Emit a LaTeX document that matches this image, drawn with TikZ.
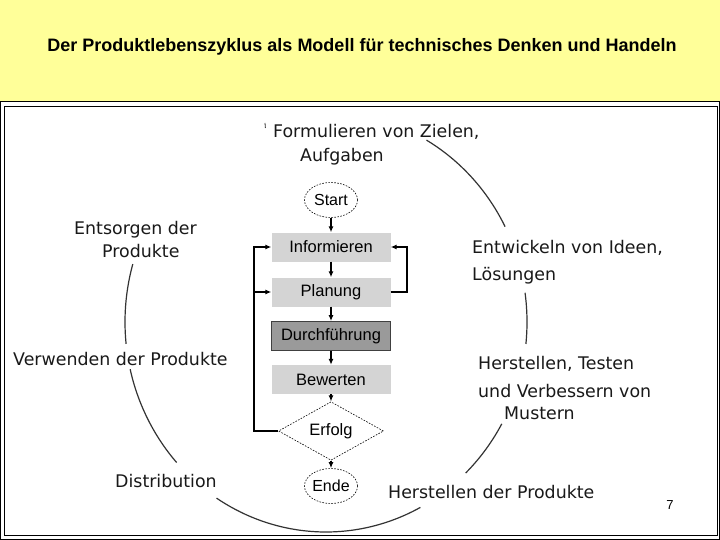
\documentclass[tikz,border=0pt]{standalone}
\usepackage{fontspec}
\setmainfont{Liberation Sans}
\newfontfamily\vfont{DejaVu Sans}
\usetikzlibrary{shapes.geometric,arrows.meta}
\definecolor{hdr}{HTML}{FFFF99}
\definecolor{boxlight}{HTML}{D4D4D4}
\definecolor{boxdark}{HTML}{9A9A9A}
\definecolor{arcgray}{HTML}{333333}
\begin{document}
\begin{tikzpicture}[x=1pt,y=-1pt,
  flowbox/.style={rectangle, minimum width=119pt, minimum height=29pt, inner sep=0pt, font=\fontsize{16.5}{19}\selectfont},
  lightbox/.style={flowbox, fill=boxlight},
  darkbox/.style={flowbox, fill=boxdark, draw=black!75, line width=0.8pt},
  term/.style={ellipse, draw, dash pattern=on 1.6pt off 1.4pt, line width=0.6pt, minimum width=53pt, minimum height=35pt, inner sep=0pt, font=\fontsize{16}{18}\selectfont},
  decision/.style={diamond, draw, dash pattern=on 1.6pt off 1.4pt, line width=0.6pt, minimum width=105pt, minimum height=42pt, inner sep=0pt, font=\fontsize{16.5}{19}\selectfont},
  arr/.style={line width=1.3pt, -{Latex[length=6pt,width=5pt]}},
  cyc/.style={font=\vfont\fontsize{17.4}{20}\selectfont, anchor=base west, inner sep=0pt, text=black!90},
  arcline/.style={draw=arcgray, line width=1.2pt},
]
\useasboundingbox (0,0) rectangle (720,540);
\fill[hdr] (0,0) rectangle (720,540);
\draw[fill=white, line width=0.8pt] (0.6,101.5) rectangle (719.4,539.4);
\draw[line width=0.8pt] (4,106) rectangle (717,535);

\node[font=\bfseries\fontsize{18}{21}\selectfont, inner sep=0pt] (title) at (362,47) {Der Produktlebenszyklus als Modell für technisches Denken und Handeln};

% flowchart
\node[term] (start) at (331,200) {Start};
\node[lightbox] (inf) at (331,247) {Informieren};
\node[lightbox] (plan) at (331,292) {Planung};
\node[darkbox] (durch) at (331,336) {Durchführung};
\node[lightbox] (bew) at (331,379.5) {Bewerten};
\node[decision] (erf) at (331,431) {Erfolg};
\node[term] (ende) at (331,486) {Ende};

\draw[arr] (start) -- (inf);
\draw[arr] (inf) -- (plan);
\draw[arr] (plan) -- (durch);
\draw[arr] (durch) -- (bew);
\draw[arr] (bew) -- (erf);
\draw[arr] (erf) -- (ende);

\coordinate (lx) at (254,0);
\coordinate (rx) at (407,0);
\draw[arr] (erf.west) -- (erf.west -| lx) -- (lx |- inf.west) -- (inf.west);
\draw[arr] (lx |- plan.west) -- (plan.west);
\draw[arr] (plan.east) -- (plan.east -| rx) -- (rx |- inf.east) -- (inf.east);

% lifecycle arcs
\def\cx{326}\def\cy{322}\def\rx{201}\def\ry{210}
\foreach \a/\b in {-60/-27, -8/6, 29/46, 62/123, 138/167, 174/196}{
  \draw[arcline] plot[domain=\a:\b, samples=40, smooth] ({\cx+\rx*cos(\x)},{\cy+\ry*sin(\x)});
}
\draw[arcline, line width=0.8pt] (265,123) -- (265.4,128);

% lifecycle labels
\node[cyc] (l1a) at (273,138) {Formulieren von Zielen,};
\node[cyc] (l1b) at (300,162) {Aufgaben};
\node[cyc] (l2a) at (472,253) {Entwickeln von Ideen,};
\node[cyc] (l2b) at (472,280) {Lösungen};
\node[cyc] (l3a) at (478,369) {Herstellen, Testen};
\node[cyc] (l3b) at (478,397) {und Verbessern von};
\node[cyc] (l3c) at (504,419) {Mustern};
\node[cyc] (l4) at (388,498) {Herstellen der Produkte};
\node[cyc] (l5) at (115,487) {Distribution};
\node[cyc] (l6) at (13,365) {Verwenden der Produkte};
\node[cyc] (l7a) at (74,235) {Entsorgen der};
\node[cyc] (l7b) at (102,258) {Produkte};

\node[font=\fontsize{13}{15}\selectfont, anchor=base, inner sep=0pt] (page) at (670,509) {7};
\end{tikzpicture}
\end{document}
